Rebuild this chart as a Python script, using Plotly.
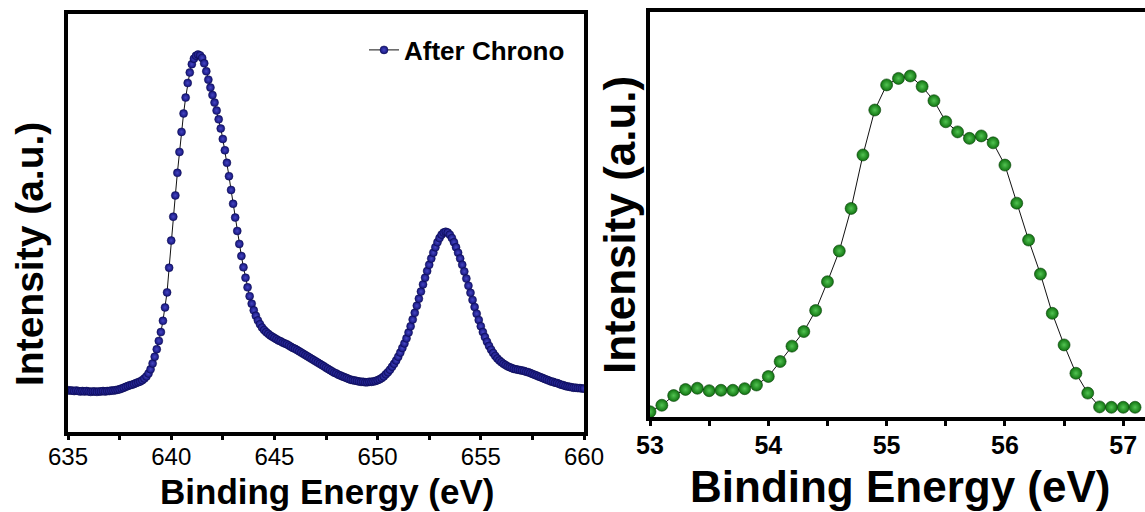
import numpy as np
import plotly.graph_objects as go

# ---------------- data ----------------
# Left panel: Co 2p region, 635.0 .. 660.0 eV, 0.1 eV step
left_start = 635.0
left_step = 0.1
left_intensity = [
    10.0, 9.9, 9.9, 9.8, 9.9, 9.8, 9.7, 9.8, 9.7, 9.8,
    9.7, 9.6, 9.7, 9.7, 9.6, 9.7, 9.7, 9.8, 9.7, 9.8,
    9.8, 9.9, 9.9, 10.0, 10.1, 10.2, 10.4, 10.6, 10.8, 11.0,
    11.2, 11.3, 11.5, 11.7, 11.9, 12.1, 12.4, 12.8, 13.3, 14.0,
    15.0, 16.4, 18.0, 19.8, 21.8, 23.9, 26.6, 29.8, 33.4, 39.3,
    45.8, 51.5, 56.6, 62.0, 67.0, 71.8, 76.2, 80.0, 83.5, 86.0,
    88.0, 89.3, 90.0, 90.3, 90.1, 89.5, 88.2, 86.3, 84.3, 82.4,
    80.6, 78.8, 76.9, 74.8, 72.6, 70.1, 67.4, 64.4, 61.2, 57.9,
    54.6, 51.3, 48.1, 45.0, 42.1, 39.4, 36.9, 34.6, 32.5, 30.7,
    29.1, 27.8, 26.7, 25.8, 25.0, 24.4, 23.9, 23.5, 23.1, 22.8,
    22.5, 22.2, 21.9, 21.7, 21.4, 21.2, 21.0, 20.7, 20.4, 20.1,
    19.9, 19.6, 19.3, 19.0, 18.7, 18.4, 18.1, 17.8, 17.5, 17.2,
    16.9, 16.6, 16.3, 16.0, 15.7, 15.4, 15.1, 14.8, 14.5, 14.2,
    14.0, 13.7, 13.5, 13.3, 13.1, 12.9, 12.7, 12.5, 12.4, 12.3,
    12.2, 12.1, 12.0, 12.0, 11.9, 11.9, 12.0, 12.0, 12.1, 12.2,
    12.4, 12.6, 12.9, 13.3, 13.8, 14.3, 14.9, 15.6, 16.3, 17.1,
    18.0, 19.0, 20.1, 21.2, 22.4, 23.8, 25.3, 26.9, 28.5, 30.2,
    31.9, 33.6, 35.3, 36.9, 38.5, 40.0, 41.5, 42.9, 44.2, 45.4,
    46.4, 47.2, 47.7, 47.9, 47.7, 47.2, 46.4, 45.4, 44.2, 42.9,
    41.5, 40.0, 38.4, 36.7, 35.0, 33.3, 31.6, 29.9, 28.3, 26.8,
    25.3, 23.9, 22.7, 21.6, 20.6, 19.7, 18.9, 18.2, 17.6, 17.1,
    16.7, 16.3, 16.0, 15.7, 15.5, 15.3, 15.1, 15.0, 14.9, 14.8,
    14.7, 14.6, 14.4, 14.3, 14.1, 13.9, 13.7, 13.5, 13.3, 13.1,
    12.9, 12.7, 12.5, 12.3, 12.1, 12.0, 11.8, 11.7, 11.5, 11.3,
    11.2, 11.0, 10.9, 10.8, 10.7, 10.6, 10.6, 10.5, 10.5, 10.4,
    10.4,
]
left_energy = np.round(left_start + left_step * np.arange(len(left_intensity)), 1)

# Right panel: 53.0 .. 57.1 eV, 0.1 eV step
right_start = 53.0
right_step = 0.1
right_intensity = [
    1.3, 2.9, 5.3, 6.8, 7.1, 6.5, 6.6, 6.6, 7.0, 7.9,
    10.0, 13.7, 17.5, 21.1, 26.3, 33.4, 41.0, 51.5, 64.7, 75.8,
    82.0, 83.6, 84.2, 81.6, 78.1, 72.9, 70.4, 68.8, 69.4, 67.7,
    62.2, 52.8, 43.7, 35.3, 25.6, 17.8, 10.8, 5.9, 2.5, 2.4,
    2.4, 2.4,
]
right_energy = np.round(right_start + right_step * np.arange(len(right_intensity)), 1)

left_ticks = [635, 640, 645, 650, 655, 660]
right_ticks = [53, 54, 55, 56, 57]
legend_label = "After Chrono"
x_title = "Binding Energy (eV)"
y_title = "Intensity (a.u.)"

# ---------------- figure ----------------
W, H = 1145, 512
FONT = "Liberation Sans, Arial, sans-serif"

fig = go.Figure()

fig.add_trace(go.Scatter(
    x=left_energy, y=left_intensity, name=legend_label,
    mode="lines+markers",
    line=dict(color="#111111", width=1),
    marker=dict(size=8, color="#14147a",
                gradient=dict(type="radial", color="#4646c4"),
                line=dict(color="#0a0a4a", width=0.5)),
    xaxis="x", yaxis="y", showlegend=True,
))

fig.add_trace(go.Scatter(
    x=right_energy, y=right_intensity, name="",
    mode="lines+markers",
    line=dict(color="#111111", width=1),
    marker=dict(size=12, color="#107210",
                gradient=dict(type="radial", color="#52c452"),
                line=dict(color="#0a400a", width=0.6)),
    xaxis="x2", yaxis="y2", showlegend=False,
))

def px_x(p):
    return p / W

def px_y(p):
    return 1 - p / H

axis_common = dict(showgrid=False, zeroline=False, linecolor="black", linewidth=4,
                   automargin=False)

fig.update_layout(
    width=W, height=H,
    margin=dict(l=0, r=0, t=0, b=0, pad=0, autoexpand=False),
    paper_bgcolor="white", plot_bgcolor="white",
    font=dict(family=FONT, color="black"),
    xaxis=dict(axis_common, domain=[px_x(68), px_x(584)], range=[635, 660],
               tickvals=left_ticks, ticks="outside", ticklen=4, tickwidth=3,
               tickcolor="black", mirror=True, showline=True,
               ticklabelstandoff=-4,
               tickfont=dict(size=24, family=FONT),
               minor=dict(dtick=2.5, tick0=635, ticks="outside", ticklen=4,
                          tickwidth=3, tickcolor="black"),
               anchor="y"),
    yaxis=dict(axis_common, domain=[px_y(432), px_y(14)], range=[0, 100],
               showticklabels=False, ticks="", mirror=True, showline=True,
               anchor="x"),
    xaxis2=dict(axis_common, domain=[px_x(650), 1.0], range=[53, 57.184],
                tickvals=right_ticks, ticks="outside", ticklen=5, tickwidth=3,
                tickcolor="black", mirror=True, showline=True,
                ticklabelstandoff=-2,
                tickfont=dict(size=25, family="Liberation Sans, Arial", weight="bold"),
                minor=dict(dtick=0.5, tick0=53, ticks="outside", ticklen=5,
                           tickwidth=3, tickcolor="black"),
                anchor="y2"),
    yaxis2=dict(axis_common, domain=[px_y(417), px_y(12)], range=[0, 100],
                showticklabels=False, ticks="", mirror=False, showline=True,
                anchor="x2"),
    legend=dict(x=px_x(364), y=px_y(50), xanchor="left", yanchor="middle",
                bgcolor="rgba(0,0,0,0)", borderwidth=0,
                font=dict(size=26, family=FONT, weight="bold")),
    showlegend=True,
)

annotations = [
    dict(text=f"<b>{x_title}</b>", x=px_x(327), y=px_y(491), xref="paper", yref="paper",
         xanchor="center", yanchor="middle", showarrow=False,
         font=dict(size=35, family=FONT)),
    dict(text=f"<b>{y_title}</b>", x=px_x(29), y=px_y(254), xref="paper", yref="paper",
         xanchor="center", yanchor="middle", showarrow=False, textangle=-90,
         font=dict(size=39, family=FONT)),
    dict(text=f"<b>{x_title}</b>", x=px_x(900), y=px_y(486), xref="paper", yref="paper",
         xanchor="center", yanchor="middle", showarrow=False,
         font=dict(size=44, family=FONT)),
    dict(text=f"<b>{y_title}</b>", x=px_x(619), y=px_y(225), xref="paper", yref="paper",
         xanchor="center", yanchor="middle", showarrow=False, textangle=-90,
         font=dict(size=44, family=FONT)),
]
fig.update_layout(annotations=annotations)

fig.write_html("out.html")
